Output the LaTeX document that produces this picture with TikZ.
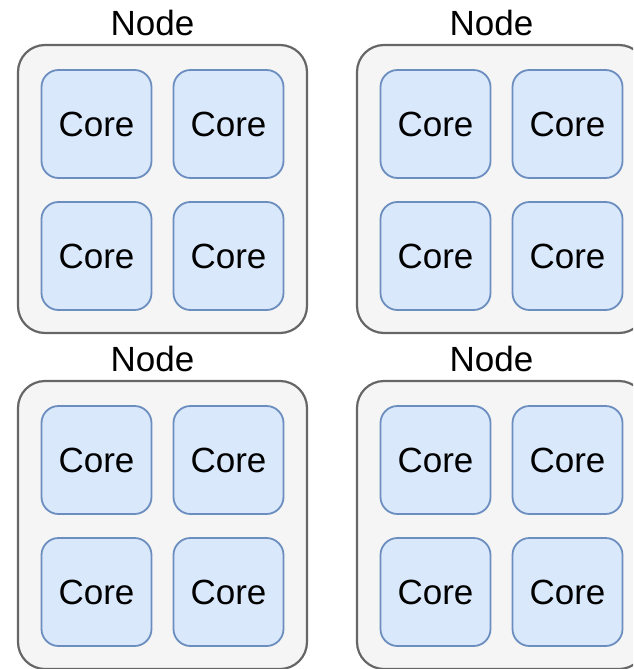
\documentclass[tikz,border=0pt]{standalone}
\usepackage{fontspec}
\setmainfont{Liberation Sans}
\usepackage{tikz}
\definecolor{boxgray}{HTML}{F5F5F5}
\definecolor{boxedge}{HTML}{666666}
\definecolor{corefill}{HTML}{DAE8FC}
\definecolor{coreedge}{HTML}{6C8EBF}
\tikzset{
  % maskiner
  nodebox/.style={draw=boxedge,fill=boxgray,line width=1.1pt,rounded corners=13.5pt,
                  minimum width=144.5pt,minimum height=144pt,inner sep=0pt},
  nodelbl/.style={font=\fontsize{17.5}{21}\selectfont,inner sep=0pt},
  % kärnor
  core/.style={draw=coreedge,fill=corefill,line width=0.9pt,rounded corners=8.5pt,
               minimum width=55pt,minimum height=54pt,inner sep=0pt,
               font=\fontsize{17.5}{21}\selectfont},
}
\begin{document}
\begin{tikzpicture}[x=0.5pt,y=-0.5pt]
  \useasboundingbox (0,0) rectangle (633,669);
  \clip (0,0) rectangle (633,669);
  \foreach \cx/\cy [count=\i] in {162.5/189,501.5/189,162.5/525,501.5/525} {
    \node[nodebox] (n\i) at (\cx,\cy) {};
    \node[nodelbl] (n\i lbl) at (\cx-10,\cy-166) {Node};
    \foreach \dx/\dy [count=\j] in {-66/-66,66/-66,-66/66,66/66}
      \node[core] (n\i c\j) at (\cx+\dx,\cy+\dy+1) {Core};
  }
\end{tikzpicture}
\end{document}
